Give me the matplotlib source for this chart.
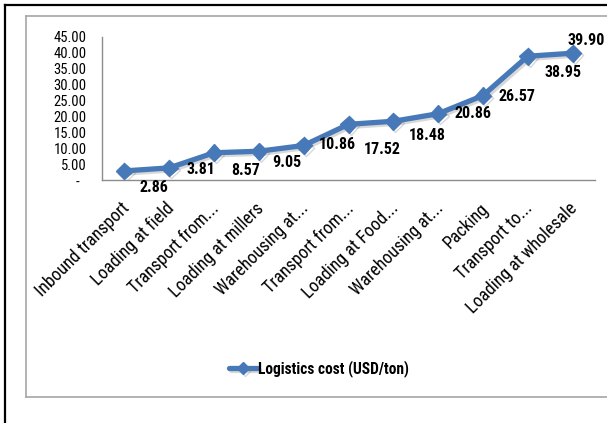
import matplotlib
matplotlib.use("Agg")
import matplotlib.pyplot as plt
import matplotlib.patheffects as pe
from matplotlib.lines import Line2D
from matplotlib.transforms import ScaledTranslation

plt.rcParams['font.family'] = ['Roboto Condensed', 'DejaVu Sans']

# supply chain stages and their logistics cost
stages = ["Inbound transport", "Loading at field", "Transport from...",
          "Loading at millers", "Warehousing at...", "Transport from...",
          "Loading at Food...", "Warehousing at...", "Packing",
          "Transport to...", "Loading at wholesale"]
cost = [2.86, 3.81, 8.57, 9.05, 10.86, 17.52, 18.48, 20.86, 26.57, 38.95, 39.90]
y_ticks = [0, 5, 10, 15, 20, 25, 30, 35, 40, 45]

# where each value label sits relative to its marker (pixels, right / down)
label_shift = [(30, 17), (32, 2), (32, 18), (28, 11), (34, -1), (34, 25),
               (34, 14), (35, 0), (34, 1), (35, 16), (14, -13)]

W, H = 607, 423
fig = plt.figure(figsize=(W / 100, H / 100), dpi=100)
fig.patch.set_facecolor('white')

# outer black frame and inner grey chart-area frame
def hline(y, x0, x1, **kw):
    fig.add_artist(Line2D([x0 / W, x1 / W], [1 - y / H, 1 - y / H], **kw))

def vline(x, y0, y1, **kw):
    fig.add_artist(Line2D([x / W, x / W], [1 - y0 / H, 1 - y1 / H], **kw))

hline(5, 5, W, color='black', lw=1.6)
vline(5, 5, H, color='black', lw=1.6)
hline(16, 26, W, color='#a6a6a6', lw=1.2)
hline(397, 26, W, color='#a6a6a6', lw=1.2)
vline(26, 16, 397, color='#a6a6a6', lw=1.2)

ax = fig.add_axes([102 / W, 1 - 180 / H, 493 / W, 143 / H])
x = list(range(len(stages)))

blue = '#4779b8'
ax.plot(x, cost, color=blue, lw=3.8, marker='D', markersize=8.5,
        markerfacecolor=blue, markeredgecolor=blue, label='Logistics cost (USD/ton)',
        solid_capstyle='round', zorder=3,
        path_effects=[pe.SimpleLineShadow(offset=(1.5, -1.5), shadow_color='gray', alpha=0.3),
                      pe.Normal()])

for xi, v, (dx, dy) in zip(x, cost, label_shift):
    ax.annotate(f"{v:.2f}", (xi, v), xytext=(dx, -dy), textcoords='offset pixels',
                ha='center', va='center', fontsize=11.5, fontweight='bold', color='black')

ax.set_xlim(-0.5, len(stages) - 0.5)
ax.set_ylim(0, 45)
ax.set_yticks(y_ticks)
ax.set_yticklabels(["-  " if t == 0 else f"{t:.2f}" for t in y_ticks], fontsize=10.5)
ax.set_xticks(x)
ax.set_xticklabels(stages, rotation=45, ha='right', rotation_mode='anchor',
                   fontsize=12.8)
ax.tick_params(axis='y', length=0, pad=11)
ax.tick_params(axis='x', length=0, pad=14)

# nudge the slanted category names a little to the left
shift = ScaledTranslation(-4 / 100, 0, fig.dpi_scale_trans)
for lbl in ax.get_xticklabels():
    lbl.set_transform(lbl.get_transform() + shift)

for side in ['top', 'right']:
    ax.spines[side].set_visible(False)
for side in ['left', 'bottom']:
    ax.spines[side].set_color('#8c8c8c')
    ax.spines[side].set_linewidth(1.0)

fig.legend(loc='center', bbox_to_anchor=(319 / W, 1 - 369 / H), frameon=False,
           prop={'weight': 'bold', 'size': 11.2}, handlelength=1.8, handletextpad=0.1,
           markerscale=0.7)

fig.savefig("out.png", dpi=100, facecolor='white')
